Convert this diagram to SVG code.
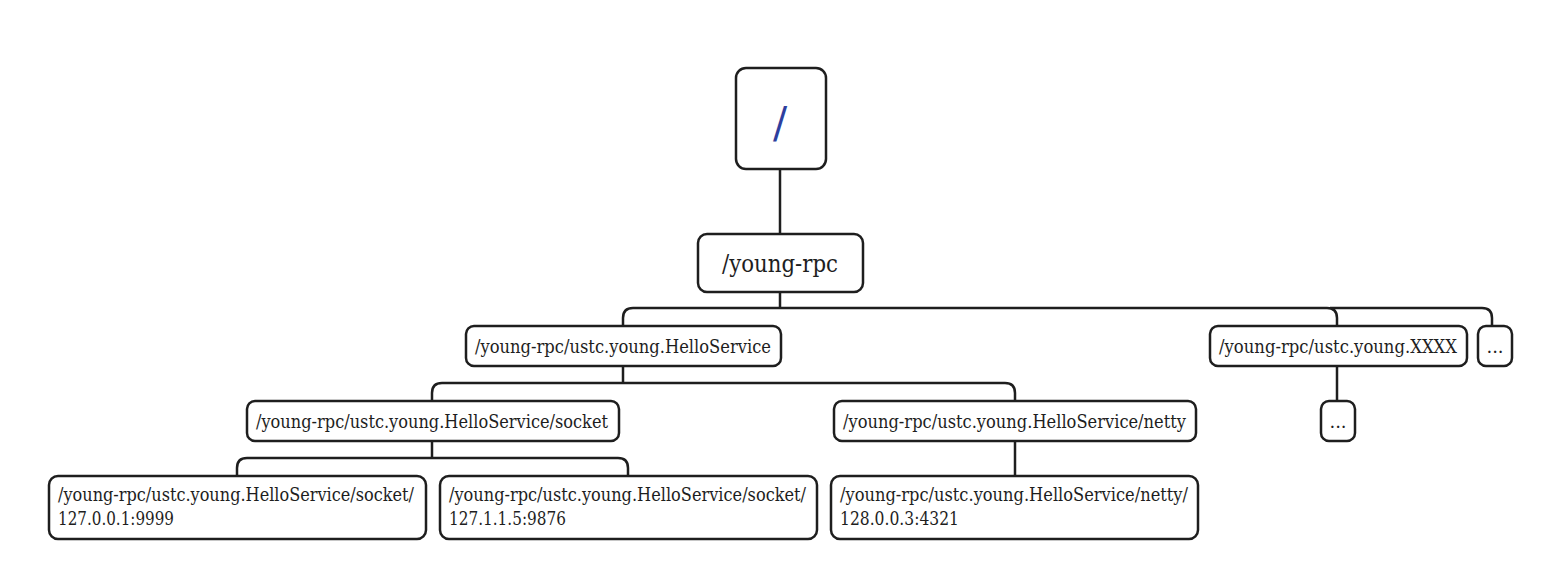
<svg xmlns="http://www.w3.org/2000/svg" width="1560" height="578" viewBox="0 0 1560 578">
<style>
.n{fill:#fff;stroke:#1e1e1e;stroke-width:2.5}
.t{font-family:"DejaVu Serif","Liberation Serif",serif;font-size:18px;fill:#1e1e1e}
.c{fill:none;stroke:#1e1e1e;stroke-width:2.5}
</style>
<rect width="1560" height="578" fill="#fff"/>
<g id="connectors">
<path class="c" d="M780 169V234"/>
<path class="c" d="M780 292V308"/>
<path class="c" d="M623 326V318Q623 308 633 308H1327Q1337 308 1337 318V326"/>
<path class="c" d="M1330 308H1482Q1492 308 1492 318V326"/>
<path class="c" d="M623 366V383"/>
<path class="c" d="M432 401V393Q432 383 442 383H1005Q1015 383 1015 393V401"/>
<path class="c" d="M1337 366V401"/>
<path class="c" d="M432 441V458"/>
<path class="c" d="M237 476V468Q237 458 247 458H618Q628 458 628 468V476"/>
<path class="c" d="M1015 441V476"/>
</g>
<g id="root"><rect class="n" x="736" y="68" width="90" height="101" rx="10"/><text class="t" x="780" y="137" style="font-size:42px;fill:#2e3f9e" text-anchor="middle">/</text></g>
<g id="young-rpc"><rect class="n" x="698" y="234" width="165" height="58" rx="9"/><text class="t" x="722" y="272" style="font-size:24px" textLength="116" lengthAdjust="spacingAndGlyphs">/young-rpc</text></g>
<g id="hello"><rect class="n" x="466" y="326" width="315" height="40" rx="8"/><text class="t" x="475" y="353" textLength="296" lengthAdjust="spacingAndGlyphs">/young-rpc/ustc.young.HelloService</text></g>
<g id="xxxx"><rect class="n" x="1210" y="326" width="257" height="40" rx="8"/><text class="t" x="1219" y="353" textLength="238" lengthAdjust="spacingAndGlyphs">/young-rpc/ustc.young.XXXX</text></g>
<g id="more1"><rect class="n" x="1478" y="326" width="34" height="40" rx="8"/><text class="t" x="1495" y="353" text-anchor="middle">...</text></g>
<g id="socket"><rect class="n" x="247" y="401" width="372" height="40" rx="8"/><text class="t" x="256" y="428" textLength="352" lengthAdjust="spacingAndGlyphs">/young-rpc/ustc.young.HelloService/socket</text></g>
<g id="netty"><rect class="n" x="834" y="401" width="362" height="40" rx="8"/><text class="t" x="843" y="428" textLength="343" lengthAdjust="spacingAndGlyphs">/young-rpc/ustc.young.HelloService/netty</text></g>
<g id="more2"><rect class="n" x="1321" y="401" width="34" height="40" rx="8"/><text class="t" x="1338" y="428" text-anchor="middle">...</text></g>
<g id="leaf1"><rect class="n" x="49" y="476" width="377" height="63" rx="9"/><text class="t" x="58" y="501" textLength="356" lengthAdjust="spacingAndGlyphs">/young-rpc/ustc.young.HelloService/socket/</text><text class="t" x="58" y="525" textLength="116" lengthAdjust="spacingAndGlyphs">127.0.0.1:9999</text></g>
<g id="leaf2"><rect class="n" x="440" y="476" width="377" height="63" rx="9"/><text class="t" x="449" y="501" textLength="357" lengthAdjust="spacingAndGlyphs">/young-rpc/ustc.young.HelloService/socket/</text><text class="t" x="449" y="525" textLength="117" lengthAdjust="spacingAndGlyphs">127.1.1.5:9876</text></g>
<g id="leaf3"><rect class="n" x="831" y="476" width="367" height="63" rx="9"/><text class="t" x="840" y="501" textLength="348" lengthAdjust="spacingAndGlyphs">/young-rpc/ustc.young.HelloService/netty/</text><text class="t" x="840" y="525" textLength="119" lengthAdjust="spacingAndGlyphs">128.0.0.3:4321</text></g>
</svg>
